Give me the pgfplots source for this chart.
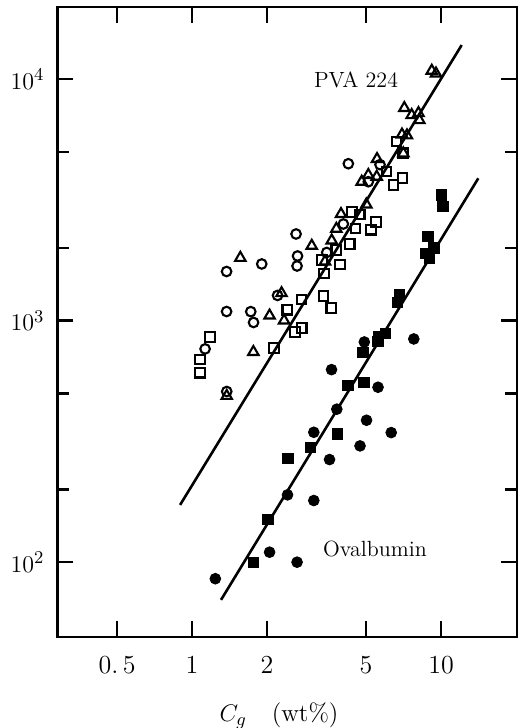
\documentclass[border=0pt]{standalone}
\usepackage{pgfplots}
\pgfplotsset{compat=1.18}
\pgfplotstableread{
x y
2.617 2285
4.244 4465
5.689 4427
5.105 3761
4.052 2513
3.475 1916
2.653 1853
2.641 1684
1.905 1717
1.376 1598
2.205 1272
1.376 1091
1.721 1090
1.766 983
1.128 764
1.378 509
}\pvacirc
\pgfplotstableread{
x y
9.18 10835
9.548 10549
7.123 7594
7.626 7102
8.121 7239
8.182 6771
6.971 5898
7.301 5848
7.058 4931
5.534 4670
5.105 4011
4.802 3761
5.518 3945
5.012 3027
3.966 2764
3.798 2401
3.639 2148
3.025 2042
1.563 1821
3.42 1758
2.288 1300
2.048 1050
2.342 1002
1.763 742
1.378 488
}\pvatri
\pgfplotstableread{
x y
6.627 5516
7.058 4931
6.04 4146
7.004 3896
6.446 3652
4.391 2818
4.716 2751
4.536 2406
5.471 2562
5.224 2381
4.298 2081
3.333 1780
3.798 1962
3.929 1709
3.383 1570
2.748 1223
3.374 1265
3.627 1131
2.412 1110
2.758 933
2.593 898
1.178 855
2.129 771
1.077 690
1.077 609
}\pvasq
\pgfplotstableread{
x y
10.03 3320
10.19 2970
8.867 2227
9.373 2000
8.665 1897
8.991 1818
6.812 1278
6.688 1187
5.985 885
5.6 860
5.585 819
4.861 738
4.224 539
4.906 554
3.833 340
2.991 298
2.425 269
2.02 150
1.763 99.8
}\ovasq
\pgfplotstableread{
x y
4.92 816
7.777 840
3.633 627
5.585 530
3.815 430
5.022 387
3.084 345
6.31 344
4.729 303
3.566 266
2.418 190
3.084 180
2.048 110
2.641 100
1.24 85.4
}\ovacirc
\begin{document}
\begin{tikzpicture}
\begin{loglogaxis}[
  scale only axis, width=229.75pt, height=315pt,
  xmin=0.288, xmax=20.2, ymin=49, ymax=19900,
  axis line style={line width=1.4pt},
  xtick={0.5,1,2,5,10}, xticklabels={0.\,5,1,2,5,10},
  minor xtick={},
  ytick={100,1000,10000},
  minor ytick={200,500,2000,5000},
  tick align=inside,
  major tick length=8pt, minor tick length=6pt,
  tick style={line width=1.3pt, black},
  tick label style={font=\fontsize{13}{15}\selectfont},
  xticklabel style={anchor=center, yshift=-14pt},
  yticklabel style={xshift=-3pt},
  xlabel={$C_g$\quad(wt\%)},
  xlabel style={font=\fontsize{12.5}{14}\selectfont, at={(axis description cs:0.482,0)}, anchor=center, yshift=-39.5pt},
  clip=false,
]
\addplot[black, line width=1.3pt] coordinates {(0.895,172.6) (12.11,13840)};
\addplot[black, line width=1.3pt] coordinates {(1.307,69.8) (14.12,3886)};
\addplot[only marks, mark=o, mark size=2.4pt, mark options={line width=1.05pt, black}] table {\pvacirc};
\addplot[only marks, mark=triangle, mark size=3pt, mark options={line width=1.05pt, black}] table {\pvatri};
\addplot[only marks, mark=square, mark size=2.4pt, mark options={line width=1.05pt, black}] table {\pvasq};
\addplot[only marks, mark=square*, mark size=2.6pt, mark options={black, fill=black}] table {\ovasq};
\addplot[only marks, mark=*, mark size=2.7pt, mark options={black, fill=black}] table {\ovacirc};
\node[font=\fontsize{11}{13}\selectfont] at (axis cs:4.557,9916) {PVA 224};
\node[font=\fontsize{11}{13}\selectfont] at (axis cs:5.43,113.5) {Ovalbumin};
\coordinate (SW) at (rel axis cs:0,0);
\coordinate (NE) at (rel axis cs:1,1);
\end{loglogaxis}
\pgfresetboundingbox
\path[use as bounding box] (SW) ++(-28.75pt,-45.5pt) rectangle ([shift={(3.5pt,3.5pt)}]NE);
\end{tikzpicture}
\end{document}
